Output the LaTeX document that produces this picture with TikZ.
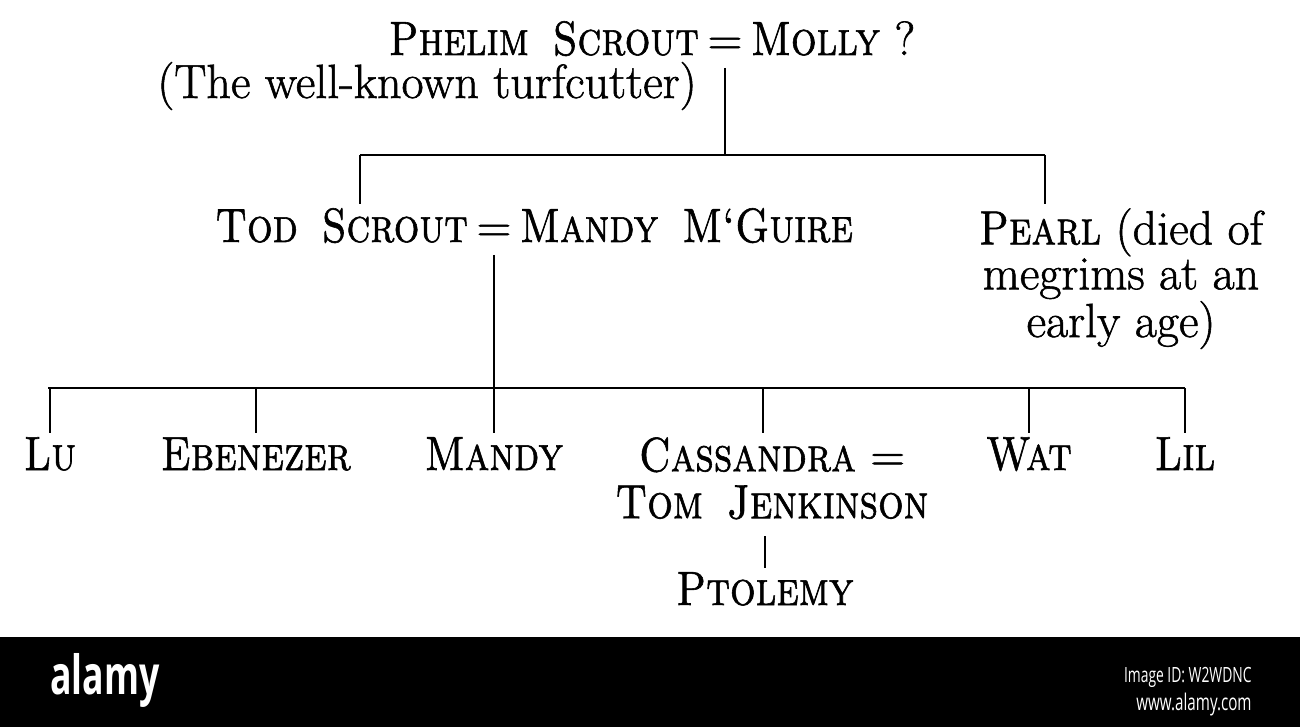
\documentclass[tikz,border=0pt]{standalone}
\usepackage{fontspec}
\setmainfont{Latin Modern Roman}[FakeBold=1.2,
  SmallCapsFont={Latin Modern Roman Caps},
  SmallCapsFeatures={FakeStretch=0.84, FakeBold=1.2}]
\newfontfamily\bandfont[FakeStretch=0.66]{Open Sans}
\usetikzlibrary{calc, positioning}

\tikzset{
  person/.style={anchor=base, inner sep=2pt, font=\fontsize{24}{21}\selectfont},
  link/.style={line width=0.8pt},
  bar/.style={line width=1.4pt},
  band/.style={text=white, inner sep=0pt, font=\bandfont},
}

\begin{document}
\begin{tikzpicture}[x=0.5pt, y=-0.5pt]
\def\rowA{55}
\def\rowB{242}
\def\rowC{470}

\useasboundingbox (0,0) rectangle (1300,727);

\node[person] (eqA) at (725,\rowA) {=};
\node[person, base left=0pt of eqA] (phelim) {\textsc{Phelim\enspace Scrout}};
\node[person, base right=0pt of eqA] (molly) {\textsc{Molly} ?};
\node[person] (turf) at (427,98) {(The well-known turfcutter)};

\coordinate (barAl) at (360,155);
\coordinate (barAr) at (1045,155);
\draw[bar] (barAl) -- (barAr);
\draw[link, shorten <=6.5pt] (eqA.base) -- (eqA.base |- barAl);

\node[person] (eqB) at (494,\rowB) {=};
\node[person, base left=0pt of eqB] (tod) {\textsc{Tod\enspace Scrout}};
\node[person, base right=0pt of eqB] (mandyM) {\textsc{Mandy\enspace M‘Guire}};
\node[person, align=center, anchor=north] (pearl) at (1121,204)
    {\textsc{Pearl} (died of\\megrims at an\\early age)};

\draw[link] (barAl) -- (barAl |- tod.north);
\draw[link] (barAr) -- (barAr |- pearl.north);

\coordinate (barBl) at (48,388);
\coordinate (barBr) at (1185,388);
\draw[bar] (barBl) -- (barBr);
\draw[link, shorten <=6.5pt] (eqB.base) -- (eqB.base |- barBl);

\node[person] (lu) at (50,\rowC) {\textsc{Lu}};
\node[person] (ebenezer) at (256,\rowC) {\textsc{Ebenezer}};
\node[person] (mandy) at (494,\rowC) {\textsc{Mandy}};
\node[person, align=center, anchor=north] (cassandra) at (772,433)
    {\textsc{Cassandra} =\\[2.5pt]\textsc{Tom\enspace Jenkinson}};
\node[person] (wat) at (1029,\rowC) {\textsc{Wat}};
\node[person] (lil) at (1185,\rowC) {\textsc{Lil}};
\node[person] (ptolemy) at (765,605) {\textsc{Ptolemy}};

\draw[link] (lu.north |- barBl) -- (lu.north);
\draw[link] (ebenezer.north |- barBl) -- (ebenezer.north);
\draw[link] (mandy.north |- barBl) -- (mandy.north);
\draw[link] (barBl -| 763,0) -- (cassandra.north -| 763,0);
\draw[link] (wat.north |- barBl) -- (wat.north);
\draw[link] (lil.north |- barBl) -- (lil.north);
\draw[link, shorten >=6pt] (ptolemy.north) -- (ptolemy.north |- cassandra.south);

\fill[black] (0,637) rectangle (1300,727);
\node[band, anchor=base west, font=\bandfont\fontsize{27}{27}\selectfont\bfseries] (logo) at (50,694) {alamy};
\node[band, anchor=base east, font=\bandfont\fontsize{10.5}{12}\selectfont] (imgid) at (1252,682) {Image ID: W2WDNC};
\node[band, anchor=base east, font=\bandfont\fontsize{11.5}{12}\selectfont] (site) at (1252,710) {www.alamy.com};
\end{tikzpicture}
\end{document}
